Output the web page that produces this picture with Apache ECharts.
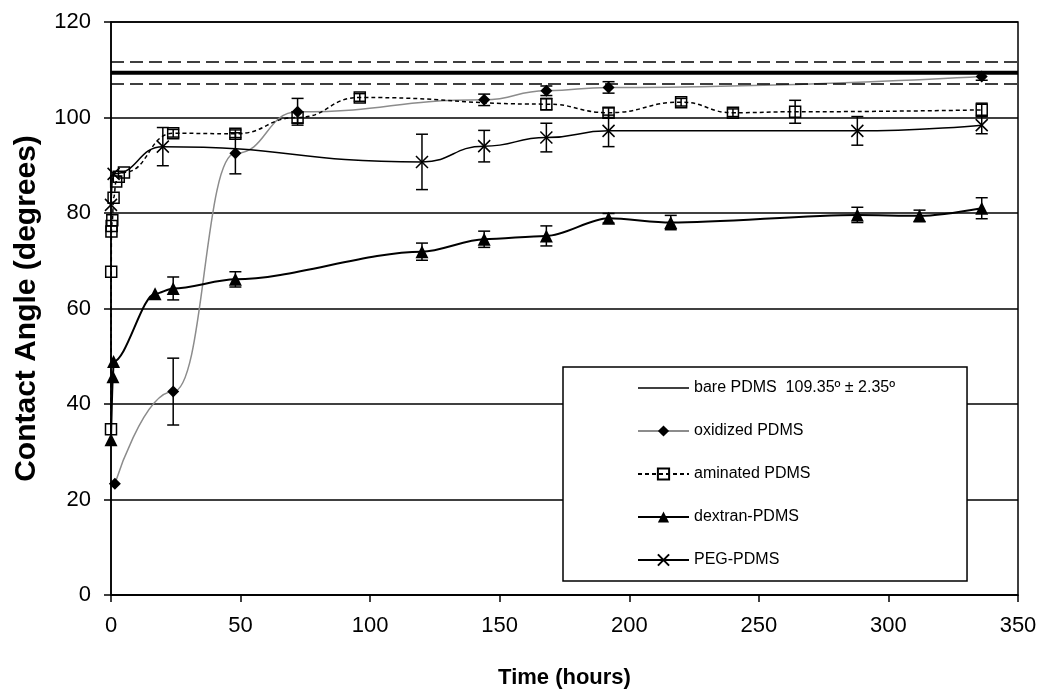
<!DOCTYPE html>
<html>
<head>
<meta charset="utf-8">
<script src="https://cdn.jsdelivr.net/npm/echarts@6/dist/echarts.min.js"></script>
<style>
html,body{margin:0;padding:0;background:#fff;}
#chart{width:1050px;height:699px;}
</style>
</head>
<body>
<div id="chart"></div>
<script>
// ---- data ----
const xTicks = [0, 50, 100, 150, 200, 250, 300, 350];
const yTicks = [0, 20, 40, 60, 80, 100, 120];

const bareMean = 109.35;
const bareSD = 2.35;

const oxHours   = [1.5, 24, 48, 72, 144, 168, 192, 336];
const oxAngle   = [23.3, 42.6, 92.5, 101.2, 103.7, 105.6, 106.3, 108.6];
const oxErr     = [0, 7.0, 4.3, 2.8, 1.2, 1.0, 1.2, 0.8];

const amHours   = [0, 0.08, 0.17, 0.25, 0.5, 1, 2, 3, 5, 24, 48, 72, 96, 168, 192, 220, 240, 264, 336];
const amAngle   = [34.7, 67.7, 76.1, 77.3, 78.5, 83.2, 86.6, 87.6, 88.5, 96.7, 96.6, 100.0, 104.2, 102.8, 101.0, 103.2, 101.0, 101.2, 101.6];
const amErr     = [0, 0, 0, 0, 0, 0, 0, 0, 0, 0.8, 0.8, 1.2, 0.8, 1.2, 1.0, 0.8, 0.8, 2.4, 1.4];

const dxHours   = [0, 0.75, 1, 17, 24, 48, 120, 144, 168, 192, 216, 288, 312, 336];
const dxAngle   = [32.5, 45.7, 48.9, 63.1, 64.2, 66.1, 71.9, 74.5, 75.2, 78.9, 78.0, 79.6, 79.4, 81.0];
const dxErr     = [0, 0, 0, 0, 2.4, 1.6, 1.8, 1.7, 2.1, 1.0, 1.5, 1.6, 1.2, 2.2];

const pegHours  = [0, 1, 20, 120, 144, 168, 192, 288, 336];
const pegAngle  = [81.7, 88.2, 93.9, 90.7, 94.0, 95.8, 97.2, 97.2, 98.4];
const pegErr    = [0, 0, 4.0, 5.8, 3.3, 3.0, 3.3, 3.0, 1.8];

const names = ['bare PDMS  109.35º ± 2.35º', 'oxidized PDMS', 'aminated PDMS', 'dextran-PDMS', 'PEG-PDMS'];

// ---- helpers ----
function pts(h, v) { return h.map((t, i) => [t, v[i]]); }
function errs(h, v, e) {
  const out = [];
  h.forEach((t, i) => { if (e[i] > 0) out.push([t, v[i] - e[i], v[i] + e[i]]); });
  return out;
}
function renderErr(params, api) {
  const x = api.value(0), lo = api.value(1), hi = api.value(2);
  const p1 = api.coord([x, lo]), p2 = api.coord([x, hi]);
  const w = 6;
  const st = { stroke: '#000', lineWidth: 1.5 };
  return {
    type: 'group',
    children: [
      { type: 'line', shape: { x1: p1[0], y1: p1[1], x2: p2[0], y2: p2[1] }, style: st },
      { type: 'line', shape: { x1: p1[0] - w, y1: p1[1], x2: p1[0] + w, y2: p1[1] }, style: st },
      { type: 'line', shape: { x1: p2[0] - w, y1: p2[1], x2: p2[0] + w, y2: p2[1] }, style: st }
    ]
  };
}
function errSeries(id, data) {
  return {
    type: 'custom', name: id, data: data, renderItem: renderErr,
    encode: { x: 0, y: [1, 2] }, z: 3, silent: true
  };
}

const FONT = 'Liberation Sans, Arial, sans-serif';
const crossPath = 'path://M0,0L10,10M10,0L0,10';

const chart = echarts.init(document.getElementById('chart'));
chart.setOption({
  animation: false,
  backgroundColor: '#fff',
  grid: { left: 111, right: 32, top: 22, bottom: 104, show: true, borderColor: '#000', borderWidth: 1.5, backgroundColor: 'transparent' },
  xAxis: {
    type: 'value', min: xTicks[0], max: xTicks[xTicks.length - 1], interval: 50,
    axisLine: { show: true, lineStyle: { color: '#000', width: 1.5 } },
    axisTick: { show: true, inside: false, length: 7, lineStyle: { color: '#000', width: 1.5 } },
    splitLine: { show: false },
    axisLabel: { color: '#000', fontSize: 22, fontFamily: FONT, margin: 20 },
    name: 'Time (hours)', nameLocation: 'middle', nameGap: 72,
    nameTextStyle: { color: '#000', fontSize: 22, fontWeight: 'bold', fontFamily: FONT }
  },
  yAxis: {
    type: 'value', min: yTicks[0], max: yTicks[yTicks.length - 1], interval: 20,
    axisLine: { show: true, lineStyle: { color: '#000', width: 1.5 } },
    axisTick: { show: true, inside: false, length: 7, lineStyle: { color: '#000', width: 1.5 } },
    splitLine: { show: true, lineStyle: { color: '#000', width: 1.5 } },
    axisLabel: { color: '#000', fontSize: 22, fontFamily: FONT, margin: 20 },
    name: 'Contact Angle (degrees)', nameLocation: 'middle', nameGap: 69,
    nameTextStyle: { color: '#000', fontSize: 30, fontWeight: 'bold', fontFamily: FONT }
  },
  legend: {
    orient: 'vertical', left: 563, top: 367,
    padding: [11, 72, 11, 74], itemGap: 23, itemWidth: 51, itemHeight: 14,
    backgroundColor: '#fff', borderColor: '#000', borderWidth: 1.5, borderRadius: 0,
    selectedMode: false,
    textStyle: { color: '#000', fontSize: 16, fontFamily: FONT, lineHeight: 20 },
    data: [
      { name: names[0], icon: 'path://M0,0L100,0L100,2.6L0,2.6Z', itemStyle: { color: '#000' } },
      { name: names[1] },
      { name: names[2] },
      { name: names[3] },
      { name: names[4] }
    ]
  },
  series: [
    {
      name: names[0], type: 'line', symbol: 'none', z: 2,
      data: [[xTicks[0], bareMean], [xTicks[xTicks.length - 1], bareMean]],
      lineStyle: { color: '#000', width: 4 }, itemStyle: { color: '#000' },
      markLine: {
        silent: true, symbol: 'none', label: { show: false },
        lineStyle: { color: '#000', width: 1.5, type: [13, 6] },
        data: [{ yAxis: bareMean + bareSD }, { yAxis: bareMean - bareSD }]
      }
    },
    errSeries('err-ox', errs(oxHours, oxAngle, oxErr)),
    errSeries('err-am', errs(amHours, amAngle, amErr)),
    errSeries('err-dx', errs(dxHours, dxAngle, dxErr)),
    errSeries('err-peg', errs(pegHours, pegAngle, pegErr)),
    {
      name: names[1], type: 'line', data: pts(oxHours, oxAngle), z: 4,
      smooth: 0.5, smoothMonotone: 'x',
      symbol: 'diamond', symbolSize: 12,
      lineStyle: { color: '#8c8c8c', width: 1.5 },
      itemStyle: { color: '#000' }
    },
    {
      name: names[2], type: 'line', data: pts(amHours, amAngle), z: 4,
      smooth: 0.5, smoothMonotone: 'x',
      symbol: 'rect', symbolSize: 11,
      lineStyle: { color: '#000', width: 1.5, type: [4, 3] },
      itemStyle: { color: 'rgba(255,255,255,0)', borderColor: '#000', borderWidth: 1.5 }
    },
    {
      name: names[3], type: 'line', data: pts(dxHours, dxAngle), z: 4,
      smooth: 0.3, smoothMonotone: 'x',
      symbol: 'triangle', symbolSize: 13,
      lineStyle: { color: '#000', width: 2 },
      itemStyle: { color: '#000' }
    },
    {
      name: names[4], type: 'line', data: pts(pegHours, pegAngle), z: 4,
      smooth: 0.5, smoothMonotone: 'x',
      symbol: crossPath, symbolSize: 12,
      lineStyle: { color: '#000', width: 1.5 },
      itemStyle: { color: '#000', borderColor: '#000', borderWidth: 1.5 }
    }
  ]
});
</script>
</body>
</html>
